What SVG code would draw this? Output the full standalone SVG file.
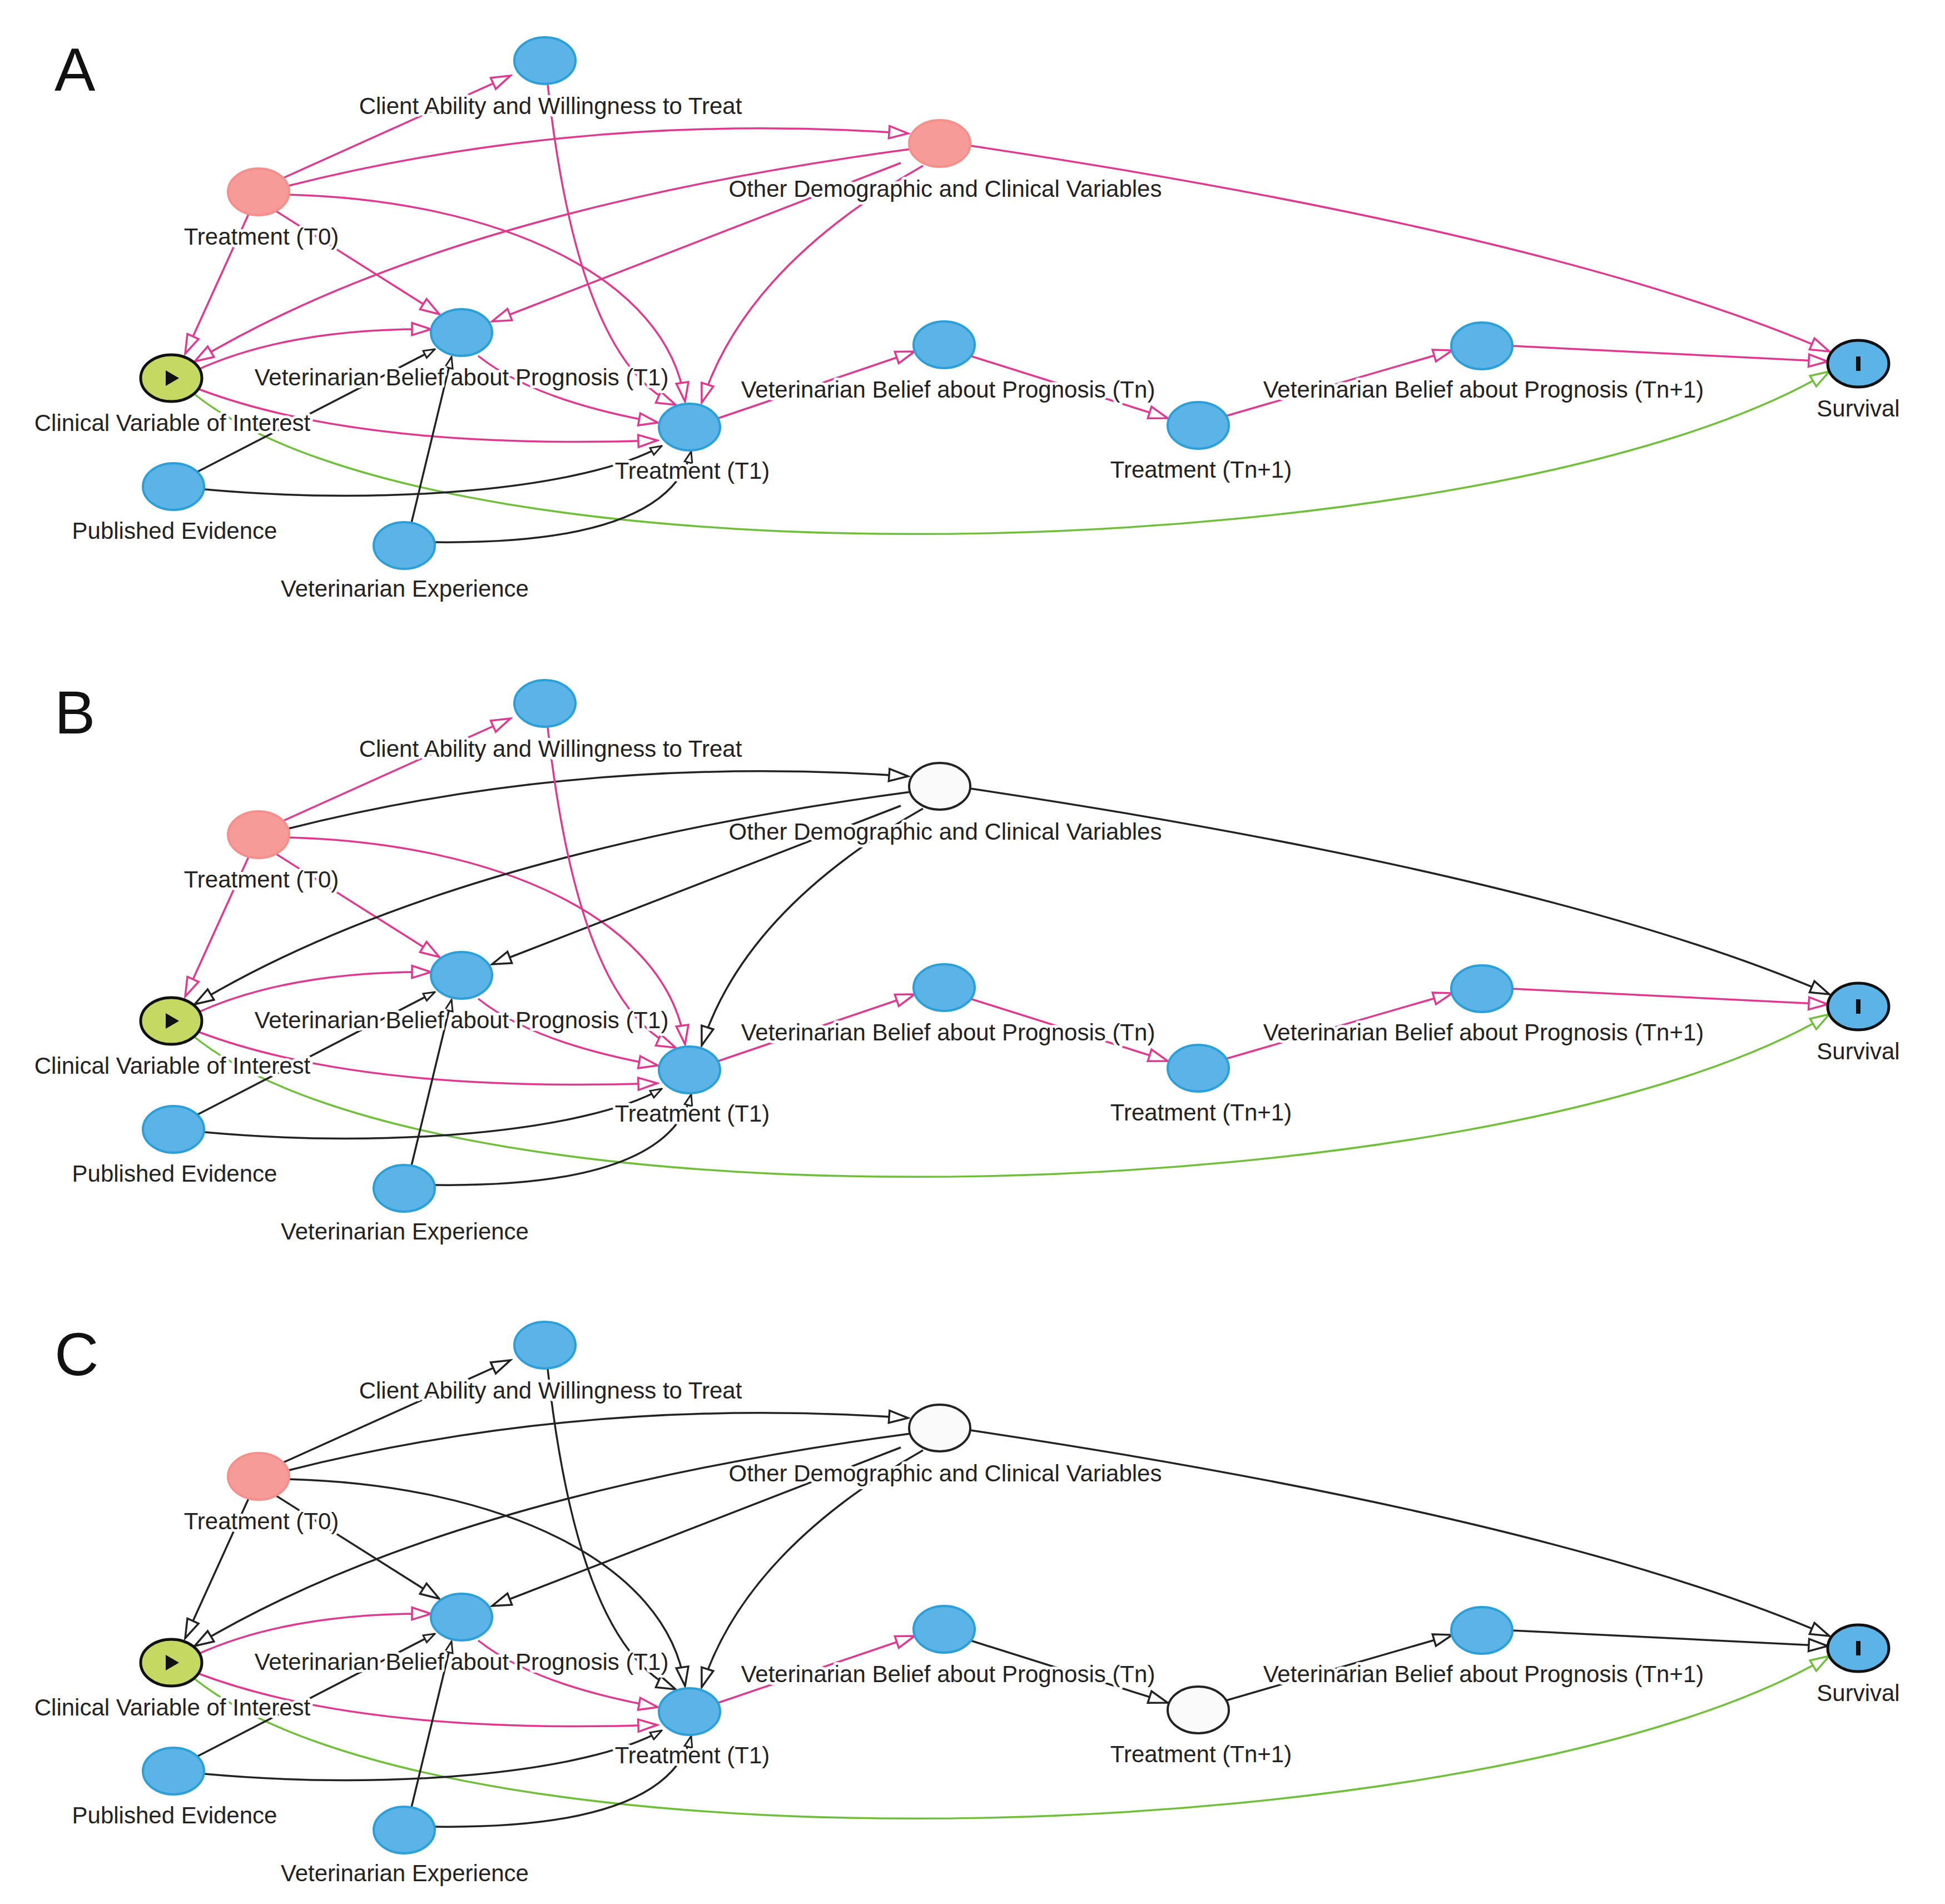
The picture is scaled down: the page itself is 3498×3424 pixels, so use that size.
<svg xmlns="http://www.w3.org/2000/svg" xmlns:xlink="http://www.w3.org/1999/xlink" width="3498" height="3424" viewBox="0 0 3498 3424">
<style>
.bg{fill:#fff}
.e{fill:none;stroke-width:3.5}
.p{stroke:#e0388f;marker-end:url(#mp)}
.k{stroke:#222;marker-end:url(#mk)}
.g{stroke:#6fbf3a;marker-end:url(#mg)}
.s{stroke:#222;marker-end:url(#ms)}
.nb{fill:#5bb3e6;stroke:#2a9fd8;stroke-width:4}
.nr{fill:#f79b98;stroke:#f3908c;stroke-width:4}
.nw{fill:#fafafa;stroke:#222;stroke-width:4}
.ng{fill:#c5d862;stroke:#111;stroke-width:5}
.ns{fill:#5bb3e6;stroke:#111;stroke-width:5}
.t{font-family:"Liberation Sans",Arial,sans-serif;font-size:42px;fill:#222;text-anchor:middle;stroke:#fff;stroke-width:10;paint-order:stroke;stroke-linejoin:round}
.L{font-family:"Liberation Sans",Arial,sans-serif;font-size:110px;fill:#111}
</style>
<defs>
<marker id="mp" markerUnits="userSpaceOnUse" markerWidth="40" markerHeight="28" refX="36" refY="14" orient="auto"><path d="M2,3 L36,14 L2,25 Z" fill="#fff" stroke="#e0388f" stroke-width="3.5"/></marker>
<marker id="mk" markerUnits="userSpaceOnUse" markerWidth="40" markerHeight="28" refX="36" refY="14" orient="auto"><path d="M2,3 L36,14 L2,25 Z" fill="#fff" stroke="#222" stroke-width="3.5"/></marker>
<marker id="mg" markerUnits="userSpaceOnUse" markerWidth="40" markerHeight="28" refX="36" refY="14" orient="auto"><path d="M2,3 L36,14 L2,25 Z" fill="#fff" stroke="#6fbf3a" stroke-width="3.5"/></marker>
<marker id="ms" markerUnits="userSpaceOnUse" markerWidth="24" markerHeight="18" refX="22" refY="9" orient="auto"><path d="M2,2 L22,9 L2,16 Z" fill="#fff" stroke="#222" stroke-width="3"/></marker>
</defs>
<rect class="bg" width="3498" height="3424"/>

<!-- PANEL A -->
<g id="panelA">
<text class="L" x="98" y="163">A</text>
<g id="connectorsA">
<path class="e p" d="M505,322 L918,136"/>
<path class="e p" d="M515,335 Q1050,200 1633,240"/>
<path class="e p" d="M518,350 C900,360 1200,500 1232,722"/>
<path class="e p" d="M497,380 L790,565"/>
<path class="e p" d="M447,385 L333,636"/>
<path class="e p" d="M1638,268 Q800,380 350,650"/>
<path class="e p" d="M1620,293 L885,578"/>
<path class="e p" d="M1660,298 Q1340,480 1262,724"/>
<path class="e p" d="M1745,262 Q2800,420 3290,632"/>
<path class="e p" d="M985,152 Q1040,650 1215,728"/>
<path class="e p" d="M355,665 Q520,590 775,592"/>
<path class="e p" d="M358,700 Q650,810 1182,792"/>
<path class="e p" d="M860,640 Q960,720 1183,760"/>
<path class="e p" d="M1292,752 L1645,632"/>
<path class="e p" d="M1745,640 L2100,752"/>
<path class="e p" d="M2205,748 L2612,630"/>
<path class="e p" d="M2718,622 L3287,650"/>
<path class="e g" d="M345,705 C800,1080 2700,1020 3290,668"/>
<path class="e s" d="M352,850 L782,628"/>
<path class="e s" d="M368,880 C700,910 1050,880 1190,802"/>
<path class="e s" d="M740,940 L812,642"/>
<path class="e s" d="M782,975 Q1200,980 1243,812"/>
</g>
<g id="A-client"><ellipse class="nb" cx="980" cy="109" rx="55" ry="42"/><text class="t" x="990" y="205">Client Ability and Willingness to Treat</text></g>
<g id="A-other"><ellipse class="nr" cx="1690" cy="258" rx="55" ry="42"/><text class="t" x="1700" y="354">Other Demographic and Clinical Variables</text></g>
<g id="A-t0"><ellipse class="nr" cx="465" cy="345" rx="55" ry="42"/><text class="t" x="470" y="440">Treatment (T0)</text></g>
<g id="A-cvi"><ellipse class="ng" cx="308" cy="680" rx="55" ry="42"/><path d="M298,666 L322,680 L298,694 Z" fill="#111"/><text class="t" x="310" y="775">Clinical Variable of Interest</text></g>
<g id="A-vb1"><ellipse class="nb" cx="830" cy="598" rx="55" ry="42"/><text class="t" x="830" y="693">Veterinarian Belief about Prognosis (T1)</text></g>
<g id="A-t1"><ellipse class="nb" cx="1240" cy="768" rx="55" ry="42"/><text class="t" x="1245" y="861">Treatment (T1)</text></g>
<g id="A-vbn"><ellipse class="nb" cx="1698" cy="620" rx="55" ry="42"/><text class="t" x="1705" y="715">Veterinarian Belief about Prognosis (Tn)</text></g>
<g id="A-tn1"><ellipse class="nb" cx="2155" cy="765" rx="55" ry="42"/><text class="t" x="2160" y="859">Treatment (Tn+1)</text></g>
<g id="A-vbn1"><ellipse class="nb" cx="2665" cy="622" rx="55" ry="42"/><text class="t" x="2668" y="715">Veterinarian Belief about Prognosis (Tn+1)</text></g>
<g id="A-surv"><ellipse class="ns" cx="3342" cy="654" rx="55" ry="42"/><rect x="3338" y="641" width="8" height="26" fill="#111"/><text class="t" x="3342" y="749">Survival</text></g>
<g id="A-pub"><ellipse class="nb" cx="312" cy="875" rx="55" ry="42"/><text class="t" x="314" y="969">Published Evidence</text></g>
<g id="A-exp"><ellipse class="nb" cx="727" cy="981" rx="55" ry="42"/><text class="t" x="728" y="1073">Veterinarian Experience</text></g>
</g>

<!-- PANEL B -->
<g id="panelB" transform="translate(0,1156)">
<text class="L" x="98" y="163">B</text>
<g id="connectorsB">
<path class="e p" d="M505,322 L918,136"/>
<path class="e k" d="M515,335 Q1050,200 1633,240"/>
<path class="e p" d="M518,350 C900,360 1200,500 1232,722"/>
<path class="e p" d="M497,380 L790,565"/>
<path class="e p" d="M447,385 L333,636"/>
<path class="e k" d="M1638,268 Q800,380 350,650"/>
<path class="e k" d="M1620,293 L885,578"/>
<path class="e k" d="M1660,298 Q1340,480 1262,724"/>
<path class="e k" d="M1745,262 Q2800,420 3290,632"/>
<path class="e p" d="M985,152 Q1040,650 1215,728"/>
<path class="e p" d="M355,665 Q520,590 775,592"/>
<path class="e p" d="M358,700 Q650,810 1182,792"/>
<path class="e p" d="M860,640 Q960,720 1183,760"/>
<path class="e p" d="M1292,752 L1645,632"/>
<path class="e p" d="M1745,640 L2100,752"/>
<path class="e p" d="M2205,748 L2612,630"/>
<path class="e p" d="M2718,622 L3287,650"/>
<path class="e g" d="M345,705 C800,1080 2700,1020 3290,668"/>
<path class="e s" d="M352,850 L782,628"/>
<path class="e s" d="M368,880 C700,910 1050,880 1190,802"/>
<path class="e s" d="M740,940 L812,642"/>
<path class="e s" d="M782,975 Q1200,980 1243,812"/>
</g>
<g id="B-client"><ellipse class="nb" cx="980" cy="109" rx="55" ry="42"/><text class="t" x="990" y="205">Client Ability and Willingness to Treat</text></g>
<g id="B-other"><ellipse class="nw" cx="1690" cy="258" rx="55" ry="42"/><text class="t" x="1700" y="354">Other Demographic and Clinical Variables</text></g>
<g id="B-t0"><ellipse class="nr" cx="465" cy="345" rx="55" ry="42"/><text class="t" x="470" y="440">Treatment (T0)</text></g>
<g id="B-cvi"><ellipse class="ng" cx="308" cy="680" rx="55" ry="42"/><path d="M298,666 L322,680 L298,694 Z" fill="#111"/><text class="t" x="310" y="775">Clinical Variable of Interest</text></g>
<g id="B-vb1"><ellipse class="nb" cx="830" cy="598" rx="55" ry="42"/><text class="t" x="830" y="693">Veterinarian Belief about Prognosis (T1)</text></g>
<g id="B-t1"><ellipse class="nb" cx="1240" cy="768" rx="55" ry="42"/><text class="t" x="1245" y="861">Treatment (T1)</text></g>
<g id="B-vbn"><ellipse class="nb" cx="1698" cy="620" rx="55" ry="42"/><text class="t" x="1705" y="715">Veterinarian Belief about Prognosis (Tn)</text></g>
<g id="B-tn1"><ellipse class="nb" cx="2155" cy="765" rx="55" ry="42"/><text class="t" x="2160" y="859">Treatment (Tn+1)</text></g>
<g id="B-vbn1"><ellipse class="nb" cx="2665" cy="622" rx="55" ry="42"/><text class="t" x="2668" y="715">Veterinarian Belief about Prognosis (Tn+1)</text></g>
<g id="B-surv"><ellipse class="ns" cx="3342" cy="654" rx="55" ry="42"/><rect x="3338" y="641" width="8" height="26" fill="#111"/><text class="t" x="3342" y="749">Survival</text></g>
<g id="B-pub"><ellipse class="nb" cx="312" cy="875" rx="55" ry="42"/><text class="t" x="314" y="969">Published Evidence</text></g>
<g id="B-exp"><ellipse class="nb" cx="727" cy="981" rx="55" ry="42"/><text class="t" x="728" y="1073">Veterinarian Experience</text></g>
</g>

<!-- PANEL C -->
<g id="panelC" transform="translate(0,2310)">
<text class="L" x="98" y="163">C</text>
<g id="connectorsC">
<path class="e k" d="M505,322 L918,136"/>
<path class="e k" d="M515,335 Q1050,200 1633,240"/>
<path class="e k" d="M518,350 C900,360 1200,500 1232,722"/>
<path class="e k" d="M497,380 L790,565"/>
<path class="e k" d="M447,385 L333,636"/>
<path class="e k" d="M1638,268 Q800,380 350,650"/>
<path class="e k" d="M1620,293 L885,578"/>
<path class="e k" d="M1660,298 Q1340,480 1262,724"/>
<path class="e k" d="M1745,262 Q2800,420 3290,632"/>
<path class="e k" d="M985,152 Q1040,650 1215,728"/>
<path class="e p" d="M355,665 Q520,590 775,592"/>
<path class="e p" d="M358,700 Q650,810 1182,792"/>
<path class="e p" d="M860,640 Q960,720 1183,760"/>
<path class="e p" d="M1292,752 L1645,632"/>
<path class="e k" d="M1745,640 L2100,752"/>
<path class="e k" d="M2205,748 L2612,630"/>
<path class="e k" d="M2718,622 L3287,650"/>
<path class="e g" d="M345,705 C800,1080 2700,1020 3290,668"/>
<path class="e s" d="M352,850 L782,628"/>
<path class="e s" d="M368,880 C700,910 1050,880 1190,802"/>
<path class="e s" d="M740,940 L812,642"/>
<path class="e s" d="M782,975 Q1200,980 1243,812"/>
</g>
<g id="C-client"><ellipse class="nb" cx="980" cy="109" rx="55" ry="42"/><text class="t" x="990" y="205">Client Ability and Willingness to Treat</text></g>
<g id="C-other"><ellipse class="nw" cx="1690" cy="258" rx="55" ry="42"/><text class="t" x="1700" y="354">Other Demographic and Clinical Variables</text></g>
<g id="C-t0"><ellipse class="nr" cx="465" cy="345" rx="55" ry="42"/><text class="t" x="470" y="440">Treatment (T0)</text></g>
<g id="C-cvi"><ellipse class="ng" cx="308" cy="680" rx="55" ry="42"/><path d="M298,666 L322,680 L298,694 Z" fill="#111"/><text class="t" x="310" y="775">Clinical Variable of Interest</text></g>
<g id="C-vb1"><ellipse class="nb" cx="830" cy="598" rx="55" ry="42"/><text class="t" x="830" y="693">Veterinarian Belief about Prognosis (T1)</text></g>
<g id="C-t1"><ellipse class="nb" cx="1240" cy="768" rx="55" ry="42"/><text class="t" x="1245" y="861">Treatment (T1)</text></g>
<g id="C-vbn"><ellipse class="nb" cx="1698" cy="620" rx="55" ry="42"/><text class="t" x="1705" y="715">Veterinarian Belief about Prognosis (Tn)</text></g>
<g id="C-tn1"><ellipse class="nw" cx="2155" cy="765" rx="55" ry="42"/><text class="t" x="2160" y="859">Treatment (Tn+1)</text></g>
<g id="C-vbn1"><ellipse class="nb" cx="2665" cy="622" rx="55" ry="42"/><text class="t" x="2668" y="715">Veterinarian Belief about Prognosis (Tn+1)</text></g>
<g id="C-surv"><ellipse class="ns" cx="3342" cy="654" rx="55" ry="42"/><rect x="3338" y="641" width="8" height="26" fill="#111"/><text class="t" x="3342" y="749">Survival</text></g>
<g id="C-pub"><ellipse class="nb" cx="312" cy="875" rx="55" ry="42"/><text class="t" x="314" y="969">Published Evidence</text></g>
<g id="C-exp"><ellipse class="nb" cx="727" cy="981" rx="55" ry="42"/><text class="t" x="728" y="1073">Veterinarian Experience</text></g>
</g>
</svg>
